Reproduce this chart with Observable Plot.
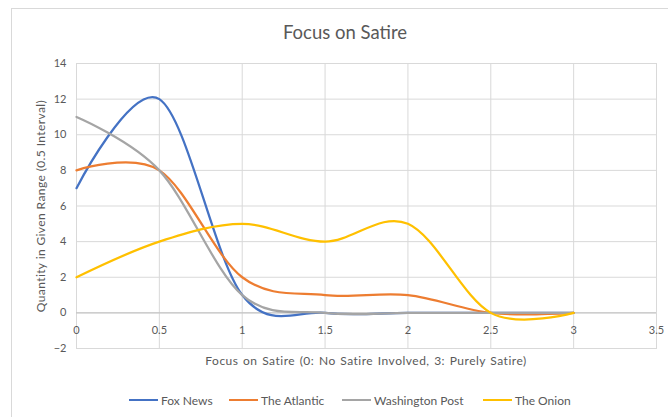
<!DOCTYPE html>
<html>
<head>
<meta charset="utf-8">
<script src="https://cdn.jsdelivr.net/npm/d3@7"></script>
<script src="https://cdn.jsdelivr.net/npm/@observablehq/plot@0.6"></script>
<style>
  body { margin: 0; background: #fff; font-family: Lato, "Open Sans", sans-serif; }
  #wrap { position: relative; width: 668px; height: 417px; overflow: hidden; }
  #border { position: absolute; left: 11px; top: 8px; width: 680px; height: 430px; border: 1px solid #d9d9d9; box-sizing: border-box; }
  .t { position: absolute; color: #595959; white-space: nowrap; }
  #title { left: 0; width: 690px; top: 21px; text-align: center; font-size: 18.5px; }
  #xtitle { left: 0; width: 732px; top: 353px; text-align: center; font-size: 12px; letter-spacing: 0.5px; word-spacing: 1px; }
  #ytitle { left: 40px; top: 206px; font-size: 12px; letter-spacing: 0.4px; transform: translate(-50%, -50%) rotate(-90deg); }
  #legend { position: absolute; top: 392px; left: 0; width: 668px; height: 16px; font-size: 12px; color: #595959; }
  .li { position: absolute; top: 0; display: flex; align-items: center; height: 16px; }
  .sw { width: 29px; height: 0; border-top: 2.25px solid; margin-right: 3px; }
  svg { position: absolute; left: 0; top: 0; }
</style>
</head>
<body>
<div id="wrap">
  <div id="border"></div>
  <div id="chart"></div>
  <div class="t" id="title">Focus on Satire</div>
  <div class="t" id="xtitle">Focus on Satire (0: No Satire Involved, 3: Purely Satire)</div>
  <div class="t" id="ytitle">Quantity in Given Range (0.5 Interval)</div>
  <div id="legend"></div>
</div>
<script>
const xs = [0, 0.5, 1, 1.5, 2, 2.5, 3];
const seriesNames = ["Fox News", "The Atlantic", "Washington Post", "The Onion"];
const foxNews = [7, 12, 1, 0, 0, 0, 0];
const theAtlantic = [8, 8, 2, 1, 1, 0, 0];
const washingtonPost = [11, 8, 1, 0, 0, 0, 0];
const theOnion = [2, 4, 5, 4, 5, 0, 0];
const colors = ["#4472C4", "#ED7D31", "#A5A5A5", "#FFC000"];
const xTicks = [0, 0.5, 1, 1.5, 2, 2.5, 3, 3.5];
const yTicks = [-2, 0, 2, 4, 6, 8, 10, 12, 14];

const values = [foxNews, theAtlantic, washingtonPost, theOnion];
const data = [];
values.forEach((vals, i) => vals.forEach((v, j) => data.push({series: seriesNames[i], x: xs[j], y: v})));

const chart = Plot.plot({
  width: 668,
  height: 417,
  marginLeft: 76,
  marginRight: 12,
  marginTop: 63,
  marginBottom: 69,
  style: {fontFamily: "Lato, 'Open Sans', sans-serif", fontSize: "11px", color: "#595959", background: "transparent"},
  x: {domain: [0, 3.5], ticks: xTicks, axis: null},
  y: {domain: [-2, 14], ticks: yTicks},
  color: {domain: seriesNames, range: colors},
  marks: [
    Plot.gridX(xTicks, {stroke: "#d9d9d9", strokeOpacity: 1}),
    Plot.gridY(yTicks, {stroke: "#d9d9d9", strokeOpacity: 1}),
    Plot.frame({stroke: "#d9d9d9"}),
    Plot.ruleY([0], {stroke: "#bfbfbf"}),
    Plot.axisY(yTicks, {tickSize: 0, tickPadding: 10, label: null, fill: "#595959", fontSize: 11}),
    Plot.text(xTicks, {x: d => d, y: 0, dy: 18, text: d => String(d), fill: "#595959", fontSize: 11}),
    Plot.line(data, {x: "x", y: "y", z: "series", stroke: "series", strokeWidth: 2.25, curve: "cardinal"})
  ]
});
document.getElementById("chart").appendChild(chart);

const legendPos = [129, 229, 342, 483];
const legend = document.getElementById("legend");
seriesNames.forEach((name, i) => {
  const item = document.createElement("div");
  item.className = "li";
  item.style.left = legendPos[i] + "px";
  item.innerHTML = `<span class="sw" style="border-color:${colors[i]}"></span><span>${name}</span>`;
  legend.appendChild(item);
});
</script>
</body>
</html>
